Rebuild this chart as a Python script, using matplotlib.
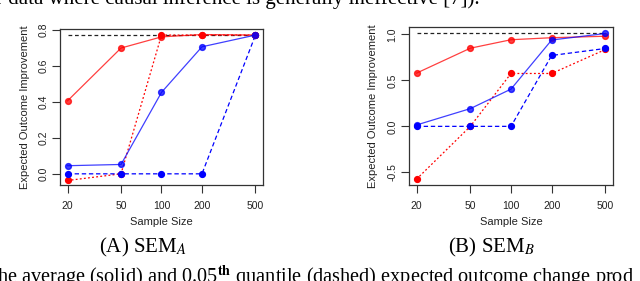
import matplotlib
matplotlib.use("Agg")
import matplotlib.pyplot as plt
import numpy as np

plt.rcParams["mathtext.fontset"] = "stix"

# ---- data ----
sample_sizes = [20, 50, 100, 200, 500]
x_tick_labels = ["20", "50", "100", "200", "500"]

a_red_mean = [0.405, 0.698, 0.760, 0.773, 0.770]
a_red_q05 = [-0.037, 0.0, 0.770, 0.770, 0.770]
a_blue_mean = [0.045, 0.052, 0.452, 0.705, 0.770]
a_blue_q05 = [0.0, 0.0, 0.0, 0.0, 0.770]
a_optimal = 0.77
a_yticks = [0.0, 0.2, 0.4, 0.6, 0.8]
a_ytick_labels = ["0.0", "0.2", "0.4", "0.6", "0.8"]

b_red_mean = [0.579, 0.850, 0.942, 0.964, 0.980]
b_red_q05 = [-0.574, 0.0, 0.575, 0.575, 0.836]
b_blue_mean = [0.015, 0.193, 0.405, 0.939, 1.010]
b_blue_q05 = [0.0, 0.0, 0.0, 0.771, 0.847]
b_optimal = 1.02
b_yticks = [-0.5, 0.0, 0.5, 1.0]
b_ytick_labels = ["-0.5", "0.0", "0.5", "1.0"]

W, H = 640, 281
fig = plt.figure(figsize=(W / 100, H / 100), dpi=100)
fig.patch.set_facecolor("white")

sans = ["Liberation Sans", "DejaVu Sans"]
serif = ["Liberation Serif", "DejaVu Serif"]


def px_axes(left, top, right, bottom):
    return fig.add_axes([left / W, 1 - bottom / H, (right - left) / W, (bottom - top) / H])


def r_ylim(lo, hi):
    pad = 0.04 * (hi - lo)
    return lo - pad, hi + pad


def draw_panel(ax, red_mean, red_q05, blue_mean, blue_q05, optimal, ylim, yticks, ylabels):
    red = "#FF0000"
    blue = "#0000FF"
    ms = 4.2
    ax.plot(sample_sizes, [optimal] * len(sample_sizes), color="#222222", lw=0.9,
            linestyle=(0, (3, 2.2)), zorder=1)
    ax.plot(sample_sizes, red_q05, color=red, lw=0.9, linestyle=(0, (1.5, 1.8)),
            marker="o", ms=ms, mec=red, mfc=red, zorder=2)
    ax.plot(sample_sizes, blue_q05, color=blue, lw=0.9, linestyle=(0, (3.5, 2.2)),
            marker="o", ms=ms, mec=blue, mfc=blue, zorder=2)
    ax.plot(sample_sizes, red_mean, color=red, lw=0.9, alpha=0.75,
            marker="o", ms=ms, mec=red, mfc=red, zorder=3)
    ax.plot(sample_sizes, blue_mean, color=blue, lw=0.9, alpha=0.75,
            marker="o", ms=ms, mec=blue, mfc=blue, zorder=3)
    ax.set_xscale("log")
    lx = np.log10(sample_sizes[0])
    hx = np.log10(sample_sizes[-1])
    pad = 0.04 * (hx - lx)
    ax.set_xlim(10 ** (lx - pad), 10 ** (hx + pad))
    ax.set_ylim(*ylim)
    ax.set_xticks(sample_sizes)
    ax.set_xticklabels(x_tick_labels, fontsize=7.5, family=sans, color="#222222")
    ax.xaxis.set_minor_locator(matplotlib.ticker.NullLocator())
    ax.set_yticks(yticks)
    ax.set_yticklabels(ylabels, fontsize=7.5, family=sans, rotation=90, va="center",
                       color="#222222")
    ax.tick_params(axis="x", length=5.5, width=0.8, pad=6, color="#333333")
    ax.tick_params(axis="y", length=5.5, width=0.8, pad=3, color="#333333")
    for s in ax.spines.values():
        s.set_linewidth(0.9)
        s.set_color("#333333")


axA = px_axes(60, 29.3, 263, 185)
draw_panel(axA, a_red_mean, a_red_q05, a_blue_mean, a_blue_q05, a_optimal,
           r_ylim(-0.03, 0.77), a_yticks, a_ytick_labels)
axB = px_axes(409, 26.7, 613, 185)
draw_panel(axB, b_red_mean, b_red_q05, b_blue_mean, b_blue_q05, b_optimal,
           r_ylim(-0.574, 1.02), b_yticks, b_ytick_labels)

# axis labels (pixel positions)
fig.text(161 / W, 1 - 221.7 / H, "Sample Size", ha="center", va="center",
         fontsize=8, family=sans, color="#222222")
fig.text(511 / W, 1 - 221.7 / H, "Sample Size", ha="center", va="center",
         fontsize=8, family=sans, color="#222222")
fig.text(25 / W, 1 - 107 / H, "Expected Outcome Improvement", ha="center", va="center",
         rotation=90, fontsize=8, family=sans, color="#222222")
fig.text(373 / W, 1 - 106 / H, "Expected Outcome Improvement", ha="center", va="center",
         rotation=90, fontsize=8, family=sans, color="#222222")

# sub-captions
fig.text(143 / W, 1 - 247 / H, "(A) SEM$_A$", ha="center", va="center",
         fontsize=15, family=serif)
fig.text(491 / W, 1 - 247 / H, "(B) SEM$_B$", ha="center", va="center",
         fontsize=15, family=serif)

# surrounding page text (cut off by the crop)
fig.text(-4 / W, 1 - 4 / H, "r data where causal inference is generally ineffective [7]).",
         ha="left", va="baseline", fontsize=15, family=serif)
fig.text(-3 / W, 1 - 283 / H,
         "he average (solid) and 0.05$^{\\mathbf{th}}$ quantile (dashed) expected outcome change prod",
         ha="left", va="baseline", fontsize=14.6, family=serif)

fig.savefig("out.png", dpi=100)
